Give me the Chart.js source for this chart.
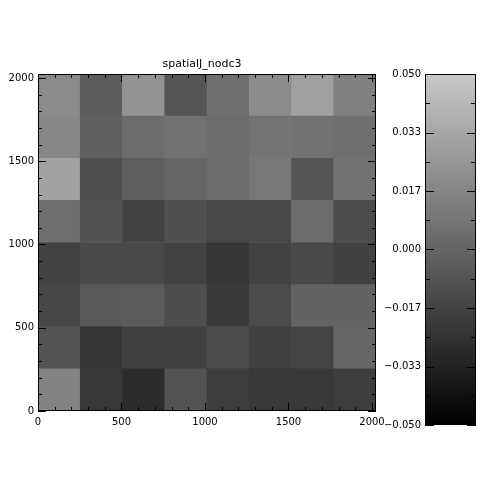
<!DOCTYPE html>
<html>
<head>
<meta charset="utf-8">
<script src="https://cdn.jsdelivr.net/npm/chart.js@4/dist/chart.umd.min.js"></script>
<style>
  body { margin: 0; background: #fff; }
  #wrap { position: relative; width: 500px; height: 500px; }
  #main { position: absolute; left: 0; top: 0; }
  #cbar { position: absolute; left: 380px; top: 0; }
</style>
</head>
<body>
<div id="wrap">
  <canvas id="main" width="420" height="500"></canvas>
  <canvas id="cbar" width="120" height="500"></canvas>
</div>
<script>
// cell grid (detector pixels), 8 x 8 bins
const colCenters = [126.5, 379.5, 632.5, 885.5, 1138.5, 1391.5, 1644.5, 1897.5];
const rowEdges = [0, 253, 506, 759, 1012, 1265, 1518, 1771, 2024];
// values per row, bottom row first
const row1 = [0.0155, -0.0225, -0.0280, -0.0085, -0.0190, -0.0220, -0.0220, -0.0190];
const row2 = [-0.0085, -0.0235, -0.0180, -0.0180, -0.0125, -0.0175, -0.0160, 0.0010];
const row3 = [-0.0145, -0.0055, -0.0045, -0.0110, -0.0210, -0.0125, -0.0005, -0.0005];
const row4 = [-0.0165, -0.0135, -0.0140, -0.0170, -0.0230, -0.0170, -0.0135, -0.0175];
const row5 = [0.0050, -0.0090, -0.0165, -0.0100, -0.0140, -0.0140, 0.0040, -0.0115];
const row6 = [0.0315, -0.0105, -0.0030, 0.0010, 0.0040, 0.0095, -0.0075, 0.0070];
const row7 = [0.0175, -0.0025, 0.0040, 0.0065, 0.0040, 0.0075, 0.0065, 0.0055];
const row8 = [0.0190, -0.0040, 0.0235, -0.0075, 0.0050, 0.0200, 0.0300, 0.0140];
const rows = [row1, row2, row3, row4, row5, row6, row7, row8];

const axisTicks = [0, 500, 1000, 1500, 2000];
const cbTicks = [-0.05, -0.0333333, -0.0166667, 0, 0.0166667, 0.0333333, 0.05];
const cbLabels = ['\u22120.050', '\u22120.033', '\u22120.017', '0.000', '0.017', '0.033', '0.050'];
const vmin = -0.05, vmax = 0.05;

function grey(v) {
  let t = (v - vmin) / (vmax - vmin);
  t = Math.max(0, Math.min(1, t));
  const g = Math.round(t * 200);
  return `rgb(${g},${g},${g})`;
}

const font = { family: 'DejaVu Sans', size: 10 };

const frameTicks = {
  id: 'frameTicks',
  afterDraw(chart) {
    const { ctx, chartArea: a, scales: { x, y } } = chart;
    ctx.save();
    ctx.strokeStyle = '#000';
    ctx.lineWidth = 1;
    ctx.strokeRect(a.left + 0.5, a.top + 0.5, a.width - 1, a.height - 1);
    ctx.beginPath();
    for (let v = 0; v <= 2024; v += 100) {
      const len = v % 500 === 0 ? 8 : 4;
      const px = Math.round(x.getPixelForValue(v)) + 0.5;
      ctx.moveTo(px, a.bottom); ctx.lineTo(px, a.bottom - len);
      ctx.moveTo(px, a.top); ctx.lineTo(px, a.top + len);
      const py = Math.round(y.getPixelForValue(v)) + 0.5;
      ctx.moveTo(a.left, py); ctx.lineTo(a.left + len, py);
      ctx.moveTo(a.right, py); ctx.lineTo(a.right - len, py);
    }
    ctx.stroke();
    ctx.restore();
  }
};

new Chart(document.getElementById('main'), {
  type: 'bar',
  data: {
    datasets: rows.map((vals, i) => ({
      data: colCenters.map(c => ({ x: c, y: [rowEdges[i], rowEdges[i + 1]] })),
      backgroundColor: vals.map(grey),
      borderWidth: 0,
      grouped: false,
      barPercentage: 1,
      categoryPercentage: 1
    }))
  },
  options: {
    responsive: false,
    animation: false,
    layout: { padding: { left: 0, right: 16, top: 0, bottom: 0 } },
    plugins: {
      legend: { display: false },
      tooltip: { enabled: false },
      title: {
        display: true,
        text: 'spatialJ_nodc3',
        color: '#000',
        font: { family: 'DejaVu Sans', size: 11, weight: 'normal' },
        padding: { top: 58, bottom: 2.8 }
      }
    },
    scales: {
      x: {
        type: 'linear',
        min: 0, max: 2024,
        offset: false,
        grid: { display: false, drawTicks: false },
        border: { display: false },
        afterBuildTicks: s => { s.ticks = axisTicks.map(v => ({ value: v })); },
        afterFit: s => { s.height = 89; },
        ticks: { color: '#000', font, padding: 5, maxRotation: 0, callback: v => String(v) }
      },
      y: {
        type: 'linear',
        min: 0, max: 2024,
        grid: { display: false, drawTicks: false },
        border: { display: false },
        afterBuildTicks: s => { s.ticks = axisTicks.map(v => ({ value: v })); },
        afterFit: s => { s.width = 38; },
        ticks: { color: '#000', font, padding: 4, callback: v => String(v) }
      },
      yr: {
        type: 'linear',
        position: 'right',
        display: true,
        min: 0, max: 2024,
        grid: { display: false, drawTicks: false },
        border: { display: false },
        ticks: { display: false },
        afterFit: s => { s.width = 28; }
      }
    }
  },
  plugins: [frameTicks]
});

const cbFrame = {
  id: 'cbFrame',
  afterDraw(chart) {
    const { ctx, chartArea: a, scales: { y } } = chart;
    ctx.save();
    ctx.strokeStyle = '#000';
    ctx.lineWidth = 1;
    ctx.strokeRect(a.left + 0.5, a.top + 0.5, a.width - 1, a.height - 1);
    ctx.beginPath();
    for (let k = 0; k <= 12; k++) {
      const v = vmin + k * (vmax - vmin) / 12;
      const len = k % 2 === 0 ? 9 : 5;
      const py = Math.round(y.getPixelForValue(v)) + 0.5;
      ctx.moveTo(a.left, py); ctx.lineTo(a.left + len, py);
      ctx.moveTo(a.right, py); ctx.lineTo(a.right - len, py);
    }
    ctx.stroke();
    ctx.restore();
  }
};

new Chart(document.getElementById('cbar'), {
  type: 'bar',
  data: {
    labels: [''],
    datasets: [{
      data: [[vmin, vmax]],
      borderWidth: 0,
      barPercentage: 1,
      categoryPercentage: 1,
      backgroundColor: ctx => {
        const { chart } = ctx;
        const a = chart.chartArea;
        if (!a) return '#666';
        const g = chart.ctx.createLinearGradient(0, a.bottom, 0, a.top);
        g.addColorStop(0, grey(vmin));
        g.addColorStop(1, grey(vmax));
        return g;
      }
    }]
  },
  options: {
    responsive: false,
    animation: false,
    layout: { padding: { left: 0, right: 24, top: 74, bottom: 75 } },
    plugins: { legend: { display: false }, tooltip: { enabled: false } },
    scales: {
      x: { display: false, offset: true },
      y: {
        min: vmin, max: vmax,
        grid: { display: false, drawTicks: false },
        border: { display: false },
        afterBuildTicks: s => { s.ticks = cbTicks.map(v => ({ value: v })); },
        afterFit: s => { s.width = 45; },
        ticks: {
          color: '#000', font, padding: 4,
          callback: (v, i) => cbLabels[i]
        }
      }
    }
  },
  plugins: [cbFrame]
});
</script>
</body>
</html>
